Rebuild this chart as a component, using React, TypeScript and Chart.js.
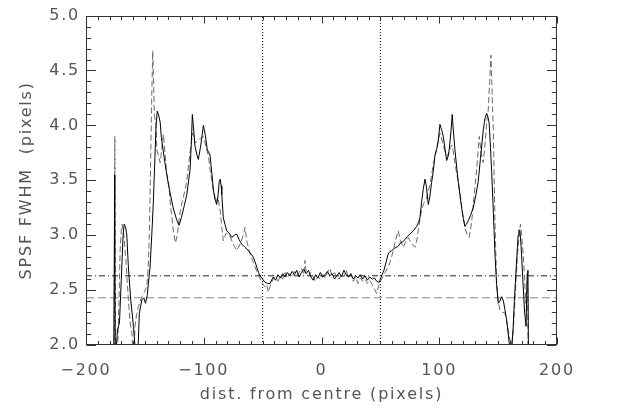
import React, { useEffect, useRef } from 'react';
import { Chart, registerables } from 'chart.js';

Chart.register(...registerables);

// Solid curve (distance from centre, FWHM)
const solidX = [
  -176.5, -175.6, -175.2, -173.3, -171.6, -170, -168.5, -167.6, -166.5, -165.4, -164, -162, -159.7, -158.5, -157, -156,
  -154.7, -152.6, -150.9, -149.5, -148, -147, -145.6, -144.1, -142.8, -141.5, -140.5, -139.5, -138.5, -137, -136, -133,
  -130, -126, -123, -121, -119, -116.5, -114.4, -111.6, -110.5, -109.7, -108.5, -107.4, -106, -104.6, -102.5, -100.3,
  -98.8, -97, -94.7, -93, -91.9, -90.5, -89, -88, -86.8, -86, -85.2, -84.7, -83.4, -82, -80.5, -78.5, -76.2, -74, -72,
  -70, -67.8, -65, -62.1, -60, -57.9, -56.5, -55, -53.5, -52.2, -50, -48, -45.5, -43.7, -42, -40.9,
  -39, -37, -35, -33, -31, -29, -27, -25, -23, -21, -19, -17, -15, -13, -11, -9, -7, -5, -3, -1,
  1, 3, 5, 7, 9, 11, 13, 15, 17, 19, 21, 23, 25, 27, 29, 31, 33, 35, 37, 39, 41, 43, 45, 47, 49,
  51, 53, 55, 56.7, 58, 59.6, 62, 65.2, 67, 69, 70.9, 73, 75.1, 78, 80.8, 82.5, 83.6, 85, 86.4, 87.9, 89, 90.7, 92, 93.5,
  94.9, 96.4, 97.8, 99, 100.6, 102, 103.4, 105, 106.3, 107.5, 108.5, 110, 111, 112, 113.3, 115, 116.1, 117.5, 119, 120.5,
  121.8, 123, 124.6, 126.5, 128.9, 131, 133.1, 135, 137.4, 138.8, 140.2, 141.3, 142.4, 143.5, 144.5, 146, 147.3, 148.7,
  150.1, 151.5, 153, 154.5, 155.8, 157.2, 159.4, 160.5, 161.5, 162.8, 164, 165.7, 167, 167.7, 168.5, 169.5, 171.3, 172.5,
  173.7, 174.7, 175.3, 175.8,
];
const solidY = [
  1.8, 3.55, 1.8, 2.14, 2.2, 2.6, 3.0, 3.1, 3.08, 3.01, 2.71, 2.41, 2.17, 2.0, 1.85, 1.9,
  2.29, 2.41, 2.43, 2.38, 2.45, 2.56, 2.71, 3.01, 3.3, 3.7, 4.0, 4.13, 4.1, 4.03, 3.89, 3.66,
  3.46, 3.25, 3.14, 3.09, 3.16, 3.27, 3.37, 3.6, 3.85, 4.1, 3.95, 3.81, 3.74, 3.69, 3.82, 4.0,
  3.92, 3.78, 3.73, 3.55, 3.42, 3.33, 3.28, 3.35, 3.49, 3.51, 3.45, 3.37, 3.16, 3.1, 3.04, 3.02, 2.98, 3.0, 3.01,
  2.96, 2.92, 2.89, 2.86, 2.83, 2.8, 2.76, 2.71, 2.66, 2.63, 2.6, 2.57, 2.56, 2.56, 2.6, 2.62,
  2.59, 2.64, 2.61, 2.65, 2.62, 2.66, 2.63, 2.67, 2.64, 2.68, 2.62, 2.66, 2.69, 2.65, 2.68, 2.62, 2.59, 2.64, 2.61, 2.66,
  2.62, 2.64, 2.67, 2.63, 2.65, 2.6, 2.63, 2.66, 2.62, 2.68, 2.64, 2.62, 2.65, 2.6, 2.63, 2.61, 2.64, 2.6, 2.63, 2.59, 2.62, 2.6, 2.61, 2.58, 2.57,
  2.63, 2.68, 2.76, 2.83, 2.85, 2.86, 2.88, 2.9, 2.93, 2.94, 2.96, 2.99, 3.01, 3.04, 3.08, 3.12, 3.16, 3.3, 3.42, 3.51, 3.45, 3.28, 3.35, 3.48,
  3.58, 3.73, 3.78, 3.85, 4.01, 3.96, 3.9, 3.78, 3.68, 3.72, 3.78, 3.95, 4.1, 3.95, 3.78, 3.6, 3.49, 3.37, 3.25, 3.15,
  3.08, 3.1, 3.13, 3.18, 3.25, 3.36, 3.49, 3.7, 3.96, 4.06, 4.11, 4.08, 4.02, 3.8, 3.58, 3.2, 2.83, 2.55,
  2.38, 2.4, 2.44, 2.4, 2.32, 2.23, 2.02, 1.9, 1.95, 2.17, 2.45, 2.77, 3.0, 3.05, 3.04, 2.9, 2.53, 2.3,
  2.17, 2.65, 2.68, 1.8,
];

// Dashed curve
const dashedX = [
  -176, -175.5, -174.8, -173, -172, -171, -170, -169.3, -168, -166, -164, -162.5, -161, -160, -159, -158.4, -157, -155.5,
  -152.6, -150.5, -148.4, -147.2, -146.2, -145.2, -144.3, -143.3, -142.6, -141.9, -140.5, -139.9, -137, -135.5, -134.3,
  -132.9, -131.4, -130, -128.6, -125.8, -124, -122.5, -120, -117, -114.4, -111.6, -109.4, -107.4, -104.6, -102.5, -100.3,
  -98, -96, -94.7, -92, -89.5, -88, -86, -84.5, -83.4, -81, -77.7, -75, -72, -69, -66.5, -64.9, -63.5, -60.7, -58.5,
  -56.5, -53.5, -50.8, -48, -46.5, -45.2, -43, -41,
  -39, -37, -35, -33, -31, -29, -27, -25, -23, -21, -19, -17, -15, -14, -13, -11, -9, -7, -5, -3, -1,
  1, 3, 5, 7, 9, 11, 13, 15, 17, 19, 21, 23, 25, 27, 29, 31, 33, 35, 37, 39, 41, 43, 45, 46.8, 48, 50, 52, 54, 56.7,
  59, 61, 63, 65.2, 67, 69.4, 71.5, 73.7, 76, 79.4, 81, 83, 84.5, 86.4, 89.3, 92.1, 94.9, 97, 100.6, 103, 105, 107.6,
  109.5, 111, 113.3, 115.5, 117.6, 119.5, 121.8, 123.5, 125.5, 127.5, 129.5, 131.8, 134, 135.5, 137.4, 139, 140.5, 141.6,
  142.8, 143.9, 144.9, 145.9, 147.3, 148.7, 150, 151.5, 153.5, 155.8, 158, 160, 161.3, 162.8, 164.5, 166.5, 168, 169,
  170, 171.3, 172.5, 173.4, 174.3, 175.1, 175.6,
];
const dashedY = [
  1.8, 3.9, 1.8, 2.0, 2.4, 2.86, 3.05, 3.1, 3.02, 2.75, 2.41, 2.2, 2.11, 1.9, 2.0, 2.17, 2.28, 2.35,
  2.44, 2.48, 2.53, 2.7, 3.01, 3.6, 4.2, 4.68, 4.4, 4.08, 4.02, 3.78, 3.66, 3.8, 3.92,
  3.75, 3.55, 3.5, 3.31, 3.04, 2.93, 3.0, 3.22, 3.36, 3.49, 3.76, 3.93, 3.84, 3.87, 3.88, 3.9,
  3.8, 3.72, 3.6, 3.42, 3.3, 3.35, 3.22, 3.05, 2.95, 3.02, 2.99, 2.92, 2.86, 2.92, 3.0, 3.07, 2.95, 2.83, 2.77,
  2.71, 2.64, 2.57, 2.53, 2.55, 2.48, 2.56, 2.6,
  2.62, 2.58, 2.63, 2.6, 2.66, 2.61, 2.65, 2.62, 2.67, 2.63, 2.66, 2.7, 2.64, 2.77, 2.66, 2.63, 2.66, 2.62, 2.58, 2.62, 2.6,
  2.64, 2.61, 2.66, 2.7, 2.63, 2.66, 2.62, 2.6, 2.65, 2.62, 2.68, 2.61, 2.64, 2.58, 2.62, 2.56, 2.61, 2.58, 2.6, 2.56, 2.59, 2.55, 2.51, 2.47, 2.52, 2.58, 2.62, 2.66, 2.71,
  2.78, 2.86, 2.96, 3.04, 2.95, 2.89, 2.94, 2.98, 2.93, 2.89, 2.96, 3.1, 3.2, 3.28, 3.34, 3.46, 3.64, 3.75, 3.93, 3.84, 3.76, 3.72,
  3.8, 3.82, 3.66, 3.52, 3.4, 3.22, 3.07, 3.01, 2.98, 3.12, 3.35, 3.6, 3.9, 3.75, 3.66, 3.85, 4.05, 4.14,
  4.4, 4.64, 4.3, 3.96, 3.13, 2.59, 2.4, 2.32, 2.3, 2.29, 2.18, 2.05, 2.0, 2.11, 2.45, 2.83, 3.02, 3.1,
  3.0, 2.83, 2.6, 2.38, 2.5, 2.65, 1.8,
];

// Reference levels and region boundaries
const dashDotLevel = 2.63;
const dashedLevel = 2.43;
const boundaries = [-50, 50];

const xMin = -200;
const xMax = 200;
const yMin = 2.0;
const yMax = 5.0;

const FONT = { family: "'DejaVu Sans', sans-serif", size: 16 };
const TEXT = '#555';
const SPACING = '1.8px';

const toPoints = (xs: number[], ys: number[]) => xs.map((x, i) => ({ x, y: ys[i] }));

const spacingPlugin = {
  id: 'letterSpacing',
  beforeLayout(chart: any) {
    chart.ctx.letterSpacing = SPACING;
  },
  beforeDraw(chart: any) {
    chart.ctx.letterSpacing = SPACING;
  },
};

const framePlugin = {
  id: 'idlFrame',
  afterDatasetsDraw(chart: any) {
    const { ctx, chartArea: a, scales } = chart;
    const xs = scales.x;
    const ys = scales.y;
    const L = Math.round(a.left) + 0.5;
    const R = Math.round(a.right) - 0.5;
    const T = Math.round(a.top) + 0.5;
    const B = Math.round(a.bottom) - 0.5;
    ctx.save();
    ctx.strokeStyle = '#333';
    ctx.lineWidth = 1;
    ctx.setLineDash([]);
    ctx.strokeRect(L, T, R - L, B - T);
    ctx.beginPath();
    for (let i = -20; i <= 20; i++) {
      const v = i * 10;
      const px = Math.round(xs.getPixelForValue(v)) + 0.5;
      const len = i % 10 === 0 ? 7 : 3.5;
      ctx.moveTo(px, B);
      ctx.lineTo(px, B - len);
      ctx.moveTo(px, T);
      ctx.lineTo(px, T + len);
    }
    for (let i = 20; i <= 50; i++) {
      const v = i / 10;
      const py = Math.round(ys.getPixelForValue(v)) + 0.5;
      const len = i % 5 === 0 ? 9.5 : 4.7;
      ctx.moveTo(L, py);
      ctx.lineTo(L + len, py);
      ctx.moveTo(R, py);
      ctx.lineTo(R - len, py);
    }
    ctx.stroke();
    ctx.restore();
  },
};

export default function App() {
  const ref = useRef<HTMLCanvasElement | null>(null);

  useEffect(() => {
    if (!ref.current) return;
    const chart = new Chart(ref.current, {
      type: 'line',
      data: {
        datasets: [
          {
            data: toPoints(solidX, solidY),
            borderColor: '#000',
            borderWidth: 1,
            pointRadius: 0,
            tension: 0,
          },
          {
            data: toPoints(dashedX, dashedY),
            borderColor: '#6a6a6a',
            borderWidth: 1,
            borderDash: [6, 3],
            pointRadius: 0,
            tension: 0,
          },
          {
            data: [
              { x: xMin, y: dashDotLevel },
              { x: xMax, y: dashDotLevel },
            ],
            borderColor: '#222',
            borderWidth: 1,
            borderDash: [6, 3, 1, 3],
            pointRadius: 0,
          },
          {
            data: [
              { x: xMin, y: dashedLevel },
              { x: xMax, y: dashedLevel },
            ],
            borderColor: '#888',
            borderWidth: 1,
            borderDash: [8, 4],
            pointRadius: 0,
          },
          ...boundaries.map((b) => ({
            data: [
              { x: b, y: yMin },
              { x: b, y: yMax },
            ],
            borderColor: '#000',
            borderWidth: 1,
            borderDash: [1, 2],
            pointRadius: 0,
          })),
        ],
      },
      options: {
        animation: false,
        responsive: false,
        events: [],
        layout: { padding: { left: 0, right: 65, top: 11, bottom: 0 } },
        plugins: { legend: { display: false }, tooltip: { enabled: false } },
        scales: {
          x: {
            type: 'linear',
            min: xMin,
            max: xMax,
            afterFit: (s: any) => {
              s.height = 71;
            },
            grid: { display: false, drawTicks: false },
            border: { display: false },
            ticks: {
              stepSize: 100,
              padding: 16,
              color: TEXT,
              font: FONT,
              callback: (v: any) => String(v).replace('-', '\u2212'),
            },
            title: {
              display: true,
              text: 'dist. from centre (pixels)',
              color: TEXT,
              font: FONT,
              padding: { top: 0, bottom: 12 },
            },
          },
          y: {
            type: 'linear',
            min: yMin,
            max: yMax,
            afterFit: (s: any) => {
              s.width = 86;
            },
            grid: { display: false, drawTicks: false },
            border: { display: false },
            ticks: {
              stepSize: 0.5,
              padding: 6,
              color: TEXT,
              font: FONT,
              callback: (v: any) => Number(v).toFixed(1),
            },
            title: {
              display: true,
              text: 'SPSF FWHM  (pixels)',
              color: TEXT,
              font: FONT,
              padding: { top: 17, bottom: 0 },
            },
          },
        },
      },
      plugins: [spacingPlugin, framePlugin],
    } as any);
    return () => chart.destroy();
  }, []);

  return (
    <div style={{ position: 'fixed', left: 0, top: 0, width: 622, height: 416, background: '#fff' }}>
      <canvas ref={ref} width={622} height={416} style={{ display: 'block' }} />
    </div>
  );
}
